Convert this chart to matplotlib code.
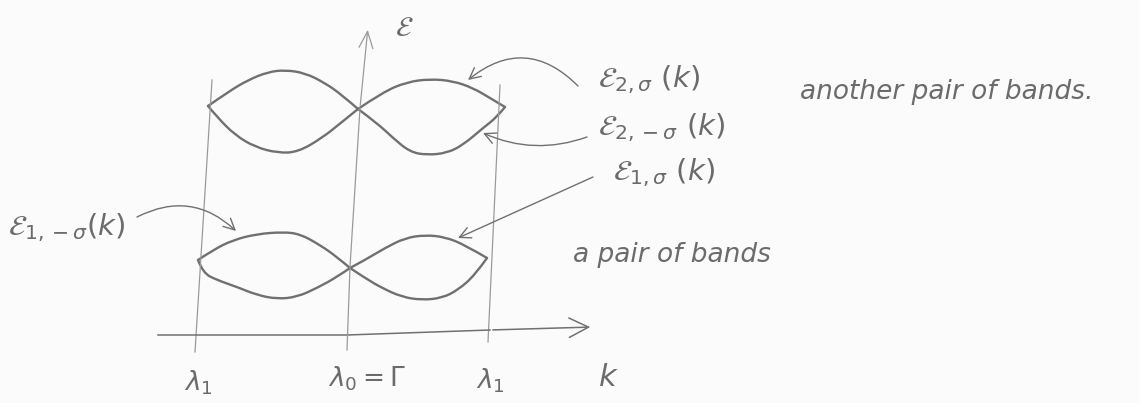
import matplotlib
matplotlib.use("Agg")
import matplotlib.pyplot as plt
from matplotlib.path import Path
from matplotlib.patches import PathPatch

# sketch is drawn in picture coordinates (x to the right, y downwards)
W, H = 1139, 403

# upper pair of bands: eps_{2,sigma} and eps_{2,-sigma}
upper_left_top_x = [208, 228, 248, 268, 285, 305, 325, 342, 358]
upper_left_top_y = [106, 92, 80, 72, 70, 73, 83, 95, 109]
upper_left_bot_x = [208, 218, 235, 255, 278, 298, 322, 342, 358]
upper_left_bot_y = [106, 118, 135, 147, 153, 152, 138, 122, 109]
upper_right_top_x = [358, 383, 407, 430, 453, 473, 490, 505]
upper_right_top_y = [109, 92, 82, 79, 81, 88, 98, 107]
upper_right_bot_x = [358, 377, 393, 410, 427, 447, 463, 483, 497, 505]
upper_right_bot_y = [109, 123, 138, 152, 155, 153, 145, 128, 117, 107]

# lower pair of bands: eps_{1,sigma} and eps_{1,-sigma}
lower_left_top_x = [198, 213, 233, 257, 283, 300, 320, 337, 350]
lower_left_top_y = [260, 250, 240, 234, 232, 234, 245, 257, 268]
lower_left_bot_x = [198, 203, 217, 237, 257, 277, 297, 317, 337, 350]
lower_left_bot_y = [260, 273, 280, 287, 295, 299, 297, 288, 277, 268]
lower_right_top_x = [350, 365, 385, 405, 425, 445, 465, 487]
lower_right_top_y = [268, 260, 248, 238, 235, 237, 245, 258]
lower_right_bot_x = [350, 365, 382, 402, 422, 442, 458, 475, 487]
lower_right_bot_y = [268, 278, 288, 297, 300, 298, 290, 275, 258]

# axes and guide lines
k_axis_x = [158, 347, 490, 593]
k_axis_y = [335, 335, 330, 327]
e_axis_x = [347, 350, 360, 368]
e_axis_y = [350, 267, 108, 27]
guide_left_x, guide_left_y = [212, 195], [80, 352]
guide_right_x, guide_right_y = [500, 488], [85, 342]

# labels (text, x, y)
band_labels = [
    (r"$\mathcal{E}_{2,\sigma}\ (k)$", 598, 80),
    (r"$\mathcal{E}_{2,-\sigma}\ (k)$", 598, 128),
    (r"$\mathcal{E}_{1,\sigma}\ (k)$", 613, 173),
    (r"$\mathcal{E}_{1,-\sigma}(k)$", 8, 228),
]
notes = [
    ("another pair of bands.", 800, 92),
    ("a pair of bands", 573, 255),
]
tick_labels = [
    (r"$\lambda_1$", 198, 383),
    (r"$\lambda_0 = \Gamma$", 367, 379),
    (r"$\lambda_1$", 490, 381),
]
# arrows from labels to bands: (start x, start y, end x, end y, bend)
pointer_arrows = [
    (578, 86, 468, 80, 0.45),
    (587, 137, 483, 133, -0.2),
    (593, 177, 458, 238, 0.0),
    (137, 217, 236, 231, -0.35),
]

pencil = "#707070"
thin = "#9a9a9a"
ink = "#6b6b6b"


def pencil_stroke(ax, xs, ys):
    # quadratic b-spline through the read points, drawn by a Path
    pts = list(zip(xs, ys))
    verts = [pts[0]]
    codes = [Path.MOVETO]
    for i in range(1, len(pts) - 1):
        mid = ((pts[i][0] + pts[i + 1][0]) / 2, (pts[i][1] + pts[i + 1][1]) / 2)
        if i == len(pts) - 2:
            mid = pts[-1]
        verts += [pts[i], mid]
        codes += [Path.CURVE3, Path.CURVE3]
    ax.add_patch(PathPatch(Path(verts, codes), fill=False, edgecolor=pencil, lw=1.7,
                           capstyle="round", joinstyle="round"))


fig = plt.figure(figsize=(W / 100, H / 100), dpi=100, facecolor="#fbfbfb")
ax = fig.add_axes([0, 0, 1, 1])
ax.set_facecolor("#fbfbfb")
ax.set_xlim(0, W)
ax.set_ylim(H, 0)
ax.axis("off")

# bands
for xs, ys in [
    (upper_left_top_x, upper_left_top_y), (upper_left_bot_x, upper_left_bot_y),
    (upper_right_top_x, upper_right_top_y), (upper_right_bot_x, upper_right_bot_y),
    (lower_left_top_x, lower_left_top_y), (lower_left_bot_x, lower_left_bot_y),
    (lower_right_top_x, lower_right_top_y), (lower_right_bot_x, lower_right_bot_y),
]:
    pencil_stroke(ax, xs, ys)

# guides and axes
ax.plot(guide_left_x, guide_left_y, color=thin, lw=0.9)
ax.plot(guide_right_x, guide_right_y, color=thin, lw=0.9)
ax.plot(k_axis_x[:-1], k_axis_y[:-1], color=pencil, lw=1.1)
ax.plot(e_axis_x[:-1], e_axis_y[:-1], color=thin, lw=0.9)
ax.annotate("", xy=(k_axis_x[-1], k_axis_y[-1]), xytext=(k_axis_x[-2], k_axis_y[-2]),
            arrowprops=dict(arrowstyle="->,head_length=1.4,head_width=0.7", color=pencil, lw=1.1))
ax.annotate("", xy=(e_axis_x[-1], e_axis_y[-1]), xytext=(e_axis_x[-2], e_axis_y[-2]),
            arrowprops=dict(arrowstyle="->,head_length=1.2,head_width=0.5", color=thin, lw=0.9))

ax.text(395, 28, r"$\mathcal{E}$", fontsize=20, color=ink, va="center", ha="left")
ax.text(598, 378, r"$k$", fontsize=22, color=ink, va="center", ha="left")

for txt, x, y in tick_labels:
    ax.text(x, y, txt, fontsize=19, color=ink, ha="center", va="center")

for txt, x, y in band_labels:
    ax.text(x, y, txt, fontsize=21, color=ink, ha="left", va="center")

for txt, x, y in notes:
    ax.text(x, y, txt, fontsize=19, color=ink, ha="left", va="center", style="italic")

for x0, y0, x1, y1, rad in pointer_arrows:
    ax.annotate("", xy=(x1, y1), xytext=(x0, y0),
                arrowprops=dict(arrowstyle="->,head_length=0.8,head_width=0.4", color=pencil,
                                lw=1.0, connectionstyle=f"arc3,rad={rad}",
                                shrinkA=0, shrinkB=0))

fig.savefig("out.png", dpi=100, facecolor=fig.get_facecolor())
